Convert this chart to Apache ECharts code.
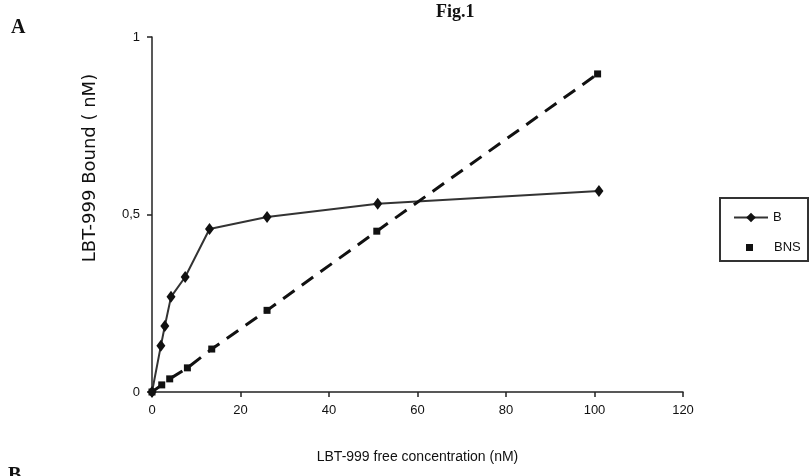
<!DOCTYPE html>
<html>
<head>
<meta charset="utf-8">
<script src="https://cdn.jsdelivr.net/npm/echarts@6/dist/echarts.min.js"></script>
<style>
html,body{margin:0;padding:0;background:#fff;}
#c{width:812px;height:476px;}
</style>
</head>
<body>
<div id="c"></div>
<script>
// Data
var seriesNames = ['B', 'BNS'];
var bX = [0, 2.0, 2.9, 4.3, 7.5, 13.0, 26.0, 51.0, 101.0];
var bY = [0, 0.13, 0.186, 0.268, 0.324, 0.459, 0.493, 0.53, 0.566];
var bnsX = [0, 2.2, 4.0, 8.0, 13.5, 26.0, 50.8, 100.7];
var bnsY = [0, 0.02, 0.037, 0.068, 0.121, 0.23, 0.453, 0.896];
var xTicks = [0, 20, 40, 60, 80, 100, 120];
var yTicks = [0, 0.5, 1];

function pairs(xs, ys) { return xs.map(function (x, i) { return [x, ys[i]]; }); }

var chart = echarts.init(document.getElementById('c'), null, {renderer: 'canvas'});
var font = 'Liberation Sans, Arial, sans-serif';
chart.setOption({
  animation: false,
  backgroundColor: '#fff',
  grid: {left: 152, top: 37, right: 129, bottom: 84, containLabel: false},
  xAxis: {
    type: 'value', min: xTicks[0], max: xTicks[xTicks.length - 1], interval: 20,
    axisLine: {lineStyle: {color: '#222', width: 1.5}},
    axisTick: {show: true, length: 5, lineStyle: {color: '#222', width: 1.5}},
    splitLine: {show: false},
    axisLabel: {color: '#111', fontFamily: font, fontSize: 13, margin: 12},
    name: 'LBT-999 free concentration (nM)', nameLocation: 'middle', nameGap: 58,
    nameTextStyle: {color: '#111', fontFamily: font, fontSize: 14}
  },
  yAxis: {
    type: 'value', min: yTicks[0], max: yTicks[yTicks.length - 1], interval: 0.5,
    axisLine: {lineStyle: {color: '#222', width: 1.5}},
    axisTick: {show: true, length: 5, lineStyle: {color: '#222', width: 1.5}},
    splitLine: {show: false},
    axisLabel: {color: '#111', fontFamily: font, fontSize: 13, margin: 12,
      formatter: function (v) { return String(v).replace('.', ','); }}
  },
  legend: [{
    data: [seriesNames[0]], left: 728, top: 206, itemWidth: 34, itemHeight: 12,
    textStyle: {color: '#111', fontFamily: font, fontSize: 13}
  }, {
    data: [{name: seriesNames[1], icon: 'rect'}], left: 741, top: 236, itemWidth: 7, itemHeight: 7,
    textStyle: {color: '#111', fontFamily: font, fontSize: 13, padding: [0, 0, 0, 16]}
  }],
  graphic: [
    {type: 'rect', shape: {x: 720, y: 198, width: 88, height: 63},
      style: {fill: null, stroke: '#333', lineWidth: 2}},
    {type: 'text', left: 11, top: 18, style: {text: 'A', font: 'bold 20px "Liberation Serif", serif', fill: '#111'}},
    {type: 'text', left: 436, top: 3, style: {text: 'Fig.1', font: 'bold 18px "Liberation Serif", serif', fill: '#111'}},
    {type: 'text', left: 8, top: 466, style: {text: 'B', font: 'bold 20px "Liberation Serif", serif', fill: '#111'}},
    {type: 'text', x: 90, y: 168, rotation: Math.PI / 2,
      style: {text: 'LBT-999 Bound ( nM)', font: '18px "DejaVu Sans", sans-serif', fill: '#111',
        align: 'center', verticalAlign: 'middle'}}
  ],
  series: [{
    name: seriesNames[0], type: 'line', data: pairs(bX, bY),
    symbol: 'diamond', symbolSize: [9, 12],
    lineStyle: {color: '#333', width: 2},
    itemStyle: {color: '#111'}
  }, {
    name: seriesNames[1], type: 'line', data: pairs(bnsX, bnsY),
    symbol: 'rect', symbolSize: 7,
    lineStyle: {color: '#111', width: 3, type: [14, 9]},
    itemStyle: {color: '#111'}
  }]
});
</script>
</body>
</html>
